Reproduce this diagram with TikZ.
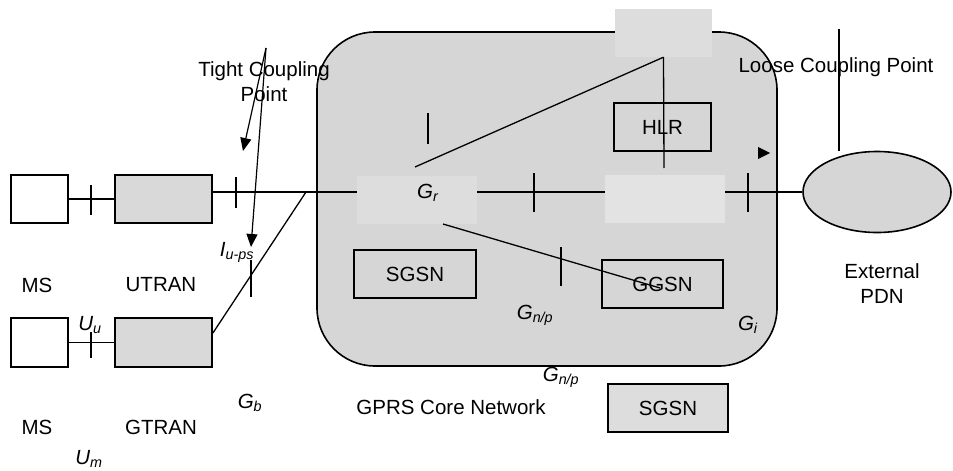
\documentclass[tikz,border=0pt]{standalone}
\usepackage{fontspec}
\setmainfont{Liberation Sans}
\usetikzlibrary{arrows.meta,shapes.geometric}

\definecolor{coregray}{HTML}{D6D6D6}
\definecolor{rangray}{HTML}{D9D9D9}
\definecolor{lightbox}{HTML}{DDDDDD}
\definecolor{palebox}{HTML}{E3E3E3}

% interface name: italic letter with italic subscript
\newcommand{\ifname}[2]{\textit{#1}\textsubscript{\textit{#2}}}

\tikzset{
  netbox/.style={draw, line width=1.8pt, inner sep=0pt, minimum width=#1, minimum height=48pt},
  netbox/.default=97pt,
  plainbox/.style={draw=none, inner sep=0pt, minimum width=#1, minimum height=48pt},
  plainbox/.default=120pt,
  link/.style={line width=1.3pt},
  radiolink/.style={line width=1.8pt},
  tickmark/.style={line width=1.4pt},
  pointer/.style={line width=1.2pt, -{Triangle[length=13pt,width=11pt]}},
  lbl/.style={inner sep=0pt, align=center},
}

\begin{document}
\begin{tikzpicture}[x=1pt,y=-1pt,font=\fontsize{20.5}{25}\selectfont]
\useasboundingbox (0,0) rectangle (953,471);

% GPRS core network area
\node[draw, line width=1.6pt, fill=coregray, rounded corners=58pt,
      minimum width=460pt, minimum height=334pt, inner sep=0pt] (core) at (547,199) {};

% boxes inside the core
\node[plainbox=97pt, fill=lightbox] (hss) at (663.5,33) {};
\node[netbox=97pt] (hlr) at (662.5,127) {HLR};
\node[plainbox, fill=lightbox] (gr) at (417,199.5) {};
\node[plainbox, fill=palebox] (gw) at (665,199) {};
\node[netbox=122pt] (sgsnA) at (415,274) {SGSN};
\node[netbox=121pt] (ggsn) at (662.5,284) {GGSN};

% boxes outside the core
\node[netbox=120pt, fill=lightbox] (sgsnB) at (668,408) {SGSN};
\node[netbox=57pt, fill=white] (ms1) at (39.5,199) {};
\node[netbox=97pt, fill=rangray] (utran) at (163.5,199) {};
\node[netbox=57pt, minimum height=49pt, fill=white] (ms2) at (39.5,342.5) {};
\node[netbox=97pt, minimum height=49pt, fill=rangray] (gtran) at (163.5,342.5) {};
\node[draw, line width=1.6pt, fill=coregray, ellipse, inner sep=0pt,
      minimum width=148pt, minimum height=81pt] (pdn) at (877,192) {};

% reference points
\coordinate (j) at (306,192);
\coordinate (grTop) at (415,167);
\coordinate (hlrLow) at (664,168);
\coordinate (grLow) at (443,224);
\coordinate (ggsnIn) at (660,288);
\coordinate (tcp) at (266,48);
\coordinate (tcpA) at (243,151);
\coordinate (tcpB) at (251,247);
\coordinate (lcpTop) at (839,29);
\coordinate (lcpLow) at (839,151);

% connectors
\draw[radiolink] (ms1) -- (ms1 -| utran.west);
\draw[radiolink] (ms2) -- (ms2 -| gtran.west);
\draw[link] (utran.east |- j) -- (gr.west |- j);
\draw[link] ([yshift=9.5pt]gtran.east) -- (j);
\draw[link] (gr.east |- j) -- (gw.west |- j);
\draw[link] (gw.east |- j) -- (pdn.west);
\draw[link] (hss.south) -- (grTop);
\draw[link] (hss.south) -- (hlrLow);
\draw[link] (grLow) -- (ggsnIn);
\draw[link] (lcpTop) -- (lcpLow);
\draw[pointer] (tcp) -- (tcpA);
\draw[pointer] (tcp) -- (tcpB);
\fill (758,147) -- (770,153) -- (758,159) -- cycle;

% reference point ticks
\draw[tickmark] (91,185) -- (91,215);
\draw[tickmark] (91,332) -- (91,358);
\draw[tickmark] (236,177) -- (236,208);
\draw[tickmark] (251,260) -- (251,297);
\draw[tickmark] (428,113) -- (428,144);
\draw[tickmark] (534,173) -- (534,212);
\draw[tickmark] (748,173) -- (748,212);
\draw[tickmark] (561,247) -- (561,286);

% labels
\node[lbl] (lms1) at (37,285) {MS};
\node[lbl] (lutran) at (161,285) {UTRAN};
\node[lbl] (lms2) at (37,427) {MS};
\node[lbl] (lgtran) at (161,427) {GTRAN};
\node[lbl] (luu) at (90,325) {\ifname{U}{u}};
\node[lbl] (lum) at (89,459) {\ifname{U}{m}};
\node[lbl] (liu) at (237,252) {\ifname{I}{u-ps}};
\node[lbl] (lgb) at (250,403) {\ifname{G}{b}};
\node[lbl] (lgr) at (428,193) {\ifname{G}{r}};
\node[lbl] (lgn1) at (535,315) {\ifname{G}{n/p}};
\node[lbl] (lgn2) at (561,377) {\ifname{G}{n/p}};
\node[lbl] (lgi) at (748,325) {\ifname{G}{i}};
\node[lbl] (ltcp) at (264,82) {Tight Coupling\\Point};
\node[lbl] (llcp) at (836,67) {Loose Coupling Point};
\node[lbl] (lpdn) at (882,284) {External\\PDN};
\node[lbl] (lcore) at (451,407) {GPRS Core Network};
\end{tikzpicture}
\end{document}
